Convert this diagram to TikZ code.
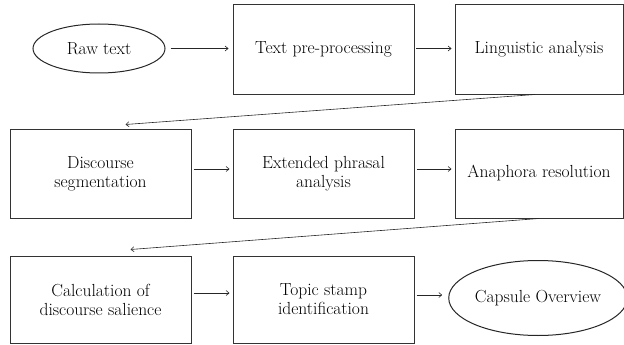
\documentclass[tikz,border=0pt]{standalone}
\usetikzlibrary{arrows.meta,shapes.geometric}
\begin{document}
\begin{tikzpicture}[x=1pt,y=1pt,
  every node/.style={font=\fontsize{17.5}{19}\selectfont, align=center, inner sep=0pt},
  stepbox/.style={draw=black!80, line width=1pt, minimum height=89pt},
  endell/.style={draw=black!85, line width=1pt, ellipse},
  conn/.style={draw=black!85, line width=0.6pt, -{Straight Barb[length=3pt,width=5pt]}}]
\useasboundingbox (0,0) rectangle (624,-345);
% row 1
\node[endell, minimum width=132pt, minimum height=49pt] (raw) at (99,-48.5) {Raw text};
\node[stepbox, minimum width=181pt] (pre) at (323.5,-49.5) {Text pre-processing};
\node[stepbox, minimum width=168pt] (ling) at (539,-49.5) {Linguistic analysis};
% row 2
\node[stepbox, minimum width=181pt] (disc) at (100.5,-173.5) {Discourse\\segmentation};
\node[stepbox, minimum width=181pt] (ext) at (323.5,-173.5) {Extended phrasal\\analysis};
\node[stepbox, minimum width=168pt] (ana) at (539,-173.5) {Anaphora resolution};
% row 3
\node[stepbox, minimum width=181pt, minimum height=87pt] (calc) at (100.5,-299.5) {Calculation of\\discourse salience};
\node[stepbox, minimum width=181pt, minimum height=87pt] (topic) at (323.5,-299.5) {Topic stamp\\identification};
\node[endell, minimum width=158pt, minimum height=75pt] (caps) at (538,-298) {Capsule Overview};
% connectors
\draw[conn, shorten <=5pt, shorten >=4pt] (raw.east) -- (raw.east -| pre.west);
\draw[conn, shorten <=1.5pt, shorten >=3pt] ([yshift=1pt]pre.east) -- ([yshift=1pt]pre.east -| ling.west);
\draw[conn] ([xshift=-4pt]ling.south) -- ([xshift=25pt,yshift=4pt]disc.north);
\draw[conn, shorten <=2pt, shorten >=3pt] ([yshift=4.5pt]disc.east) -- ([yshift=4.5pt]disc.east -| ext.west);
\draw[conn, shorten <=2pt, shorten >=3pt] ([yshift=4.5pt]ext.east) -- ([yshift=4.5pt]ext.east -| ana.west);
\draw[conn] (ana.south) -- ([xshift=30pt,yshift=6pt]calc.north);
\draw[conn, shorten <=2pt, shorten >=3pt] ([yshift=6.5pt]calc.east) -- ([yshift=6.5pt]calc.east -| topic.west);
\draw[conn, shorten <=2pt, shorten >=6pt] ([yshift=4.5pt]topic.east) -- ([yshift=4.5pt]topic.east -| caps.west);
\end{tikzpicture}
\end{document}
